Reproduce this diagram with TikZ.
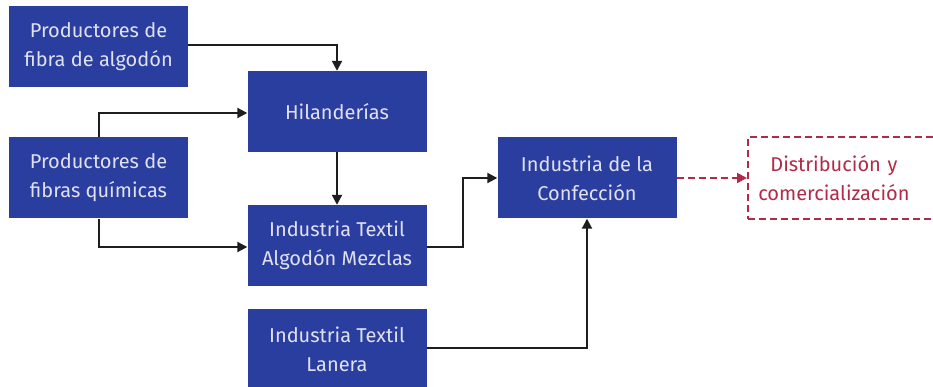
\documentclass[tikz,border=0pt]{standalone}
\usepackage{fontspec}
\setmainfont{Fira Sans}
\usetikzlibrary{arrows.meta}
\definecolor{boxblue}{RGB}{42,62,160}
\definecolor{boxtext}{RGB}{225,225,238}
\definecolor{distred}{RGB}{178,42,72}
\definecolor{lin}{RGB}{30,30,30}
\tikzset{
  bluebox/.style={fill=boxblue, draw=none, minimum width=179pt, minimum height=81pt, inner sep=0pt,
    text=boxtext, align=center, font=\fontsize{20}{29}\selectfont},
  distbox/.style={draw=distred, dash pattern=on 7pt off 4pt, line width=1.8pt, minimum width=200pt, minimum height=82pt,
    inner sep=0pt, text=distred, align=center, font=\fontsize{20}{29}\selectfont},
  conn/.style={draw=lin, line width=2pt, -{Triangle[length=10pt,width=10pt]}},
  dconn/.style={draw=distred, line width=2pt, dash pattern=on 7pt off 4pt, -{Triangle[length=10pt,width=10pt]}}
}
\begin{document}
\begin{tikzpicture}[x=1pt,y=-1pt]
\useasboundingbox[fill=white] (0,0) rectangle (933,387);
\node[bluebox] (pa) at (98.5,47) {Productores de\\fibra de algodón};
\node[bluebox] (hil) at (337,111.5) {Hilanderías};
\node[bluebox] (pq) at (98.5,178) {Productores de\\fibras químicas};
\node[bluebox] (itam) at (337,245.5) {Industria Textil\\Algodón Mezclas};
\node[bluebox] (conf) at (587,178) {Industria de la\\Confección};
\node[bluebox] (lan) at (337,349.5) {Industria Textil\\Lanera};
\node[distbox, anchor=west, text width=200pt] (dist) at (747,178) {\hspace*{-28pt}Distribución y\\\hspace*{-28pt}comercialización};
\coordinate (bend) at (463,178);
\draw[conn] ([yshift=2pt]pa.east) -| (hil.north);
\draw[conn] (pq.north) |- ([yshift=-1.5pt]hil.west);
\draw[conn] (pq.south) |- ([yshift=-1.5pt]itam.west);
\draw[conn] (hil.south) -- (itam.north);
\draw[conn] ([yshift=-1.5pt]itam.east) -| (bend) -- (conf.west);
\draw[conn] ([yshift=1.5pt]lan.east) -| (conf.south);
\draw[dconn] (conf.east) -- (dist.west);
\end{tikzpicture}
\end{document}
